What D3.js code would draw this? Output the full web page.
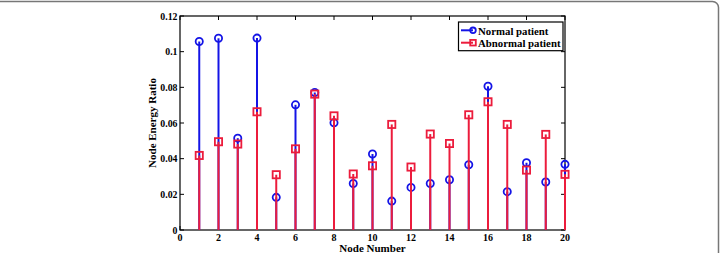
<!DOCTYPE html>
<html>
<head>
<meta charset="utf-8">
<script src="https://cdn.jsdelivr.net/npm/d3@7"></script>
<style>
  body { margin: 0; background: #fff; }
  svg text { font-family: "Liberation Serif", "Times New Roman", serif; font-weight: bold; }
</style>
</head>
<body>
<svg id="chart"></svg>
<script>
const nodes = d3.range(1, 21);
const normalValues = [0.1057, 0.1075, 0.0515, 0.1076, 0.0183, 0.0702, 0.0771, 0.0601, 0.0261, 0.0426,
                      0.0162, 0.0239, 0.0261, 0.0282, 0.0366, 0.0806, 0.0215, 0.0377, 0.0269, 0.0368];
const abnormalValues = [0.0418, 0.0495, 0.0482, 0.0663, 0.0310, 0.0455, 0.0762, 0.0640, 0.0314, 0.0360,
                        0.0592, 0.0353, 0.0538, 0.0485, 0.0646, 0.0719, 0.0592, 0.0336, 0.0536, 0.0312];
const xTicks = [0, 2, 4, 6, 8, 10, 12, 14, 16, 18, 20];
const yTicks = [0, 0.02, 0.04, 0.06, 0.08, 0.1, 0.12];
const seriesNames = ["Normal patient", "Abnormal patient"];

const W = 720, H = 253;
const blue = "#1414e6", red = "#ec1c3c";

const svg = d3.select("#chart").attr("width", W).attr("height", H);

// figure frame (left side runs off the page)
svg.append("rect")
    .attr("x", -10).attr("y", 1.5)
    .attr("width", 728.5).attr("height", 280)
    .attr("rx", 6)
    .attr("fill", "none")
    .attr("stroke", "#777")
    .attr("stroke-width", 1.5);

const mLeft = 180, mRight = 565, mTop = 16, mBottom = 230;
const x = d3.scaleLinear().domain([0, 20]).range([mLeft, mRight]);
const y = d3.scaleLinear().domain([0, 0.12]).range([mBottom, mTop]);

const g = svg.append("g");

// ticks (inward, on all four sides)
const tl = 4;
xTicks.forEach(t => {
    g.append("line").attr("x1", x(t)).attr("x2", x(t)).attr("y1", mBottom).attr("y2", mBottom - tl).attr("stroke", "#000");
    g.append("line").attr("x1", x(t)).attr("x2", x(t)).attr("y1", mTop).attr("y2", mTop + tl).attr("stroke", "#000");
    g.append("text").attr("x", x(t)).attr("y", mBottom + 10.5)
        .attr("text-anchor", "middle").attr("font-size", 10).text(t);
});
yTicks.forEach(t => {
    g.append("line").attr("x1", mLeft).attr("x2", mLeft + tl).attr("y1", y(t)).attr("y2", y(t)).attr("stroke", "#000");
    g.append("line").attr("x1", mRight).attr("x2", mRight - tl).attr("y1", y(t)).attr("y2", y(t)).attr("stroke", "#000");
    g.append("text").attr("x", mLeft - 2.5).attr("y", y(t) + 3.5)
        .attr("text-anchor", "end").attr("font-size", 9.8).text(t);
});

g.append("rect")
    .attr("x", mLeft).attr("y", mTop)
    .attr("width", mRight - mLeft).attr("height", mBottom - mTop)
    .attr("fill", "none").attr("stroke", "#000").attr("stroke-width", 1.2);

function drawStems(values, color, marker) {
    const s = svg.append("g");
    s.selectAll("line").data(values).join("line")
        .attr("x1", (d, i) => x(nodes[i])).attr("x2", (d, i) => x(nodes[i]))
        .attr("y1", y(0)).attr("y2", d => y(d))
        .attr("stroke", color).attr("stroke-width", 2);
    if (marker === "circle") {
        s.selectAll("circle").data(values).join("circle")
            .attr("cx", (d, i) => x(nodes[i])).attr("cy", d => y(d)).attr("r", 3.6)
            .attr("fill", "none").attr("stroke", color).attr("stroke-width", 1.8);
    } else {
        s.selectAll("rect").data(values).join("rect")
            .attr("x", (d, i) => x(nodes[i]) - 3.6).attr("y", d => y(d) - 3.6)
            .attr("width", 7.2).attr("height", 7.2)
            .attr("fill", "none").attr("stroke", color).attr("stroke-width", 1.8);
    }
}
drawStems(normalValues, blue, "circle");
drawStems(abnormalValues, red, "square");

// axis labels
svg.append("text").attr("x", x(10)).attr("y", 251.5)
    .attr("text-anchor", "middle").attr("font-size", 11).text("Node Number");
svg.append("text")
    .attr("transform", `translate(156,${(mTop + mBottom) / 2}) rotate(-90)`)
    .attr("text-anchor", "middle").attr("font-size", 11).text("Node Energy Ratio");

// legend
const lg = svg.append("g").attr("transform", "translate(458.5,22)");
lg.append("rect").attr("width", 104.5).attr("height", 28.7)
    .attr("fill", "#fff").attr("stroke", "#000").attr("stroke-width", 1.2);
const lcolors = [blue, red];
seriesNames.forEach((name, i) => {
    const ly = 8.3 + i * 12.4;
    lg.append("line").attr("x1", 2.5).attr("x2", 14.5).attr("y1", ly).attr("y2", ly)
        .attr("stroke", lcolors[i]).attr("stroke-width", 2);
    if (i === 0) {
        lg.append("circle").attr("cx", 14.5).attr("cy", ly).attr("r", 2.8)
            .attr("fill", "none").attr("stroke", blue).attr("stroke-width", 1.8);
    } else {
        lg.append("rect").attr("x", 11.7).attr("y", ly - 2.8).attr("width", 5.6).attr("height", 5.6)
            .attr("fill", "none").attr("stroke", red).attr("stroke-width", 1.8);
    }
    lg.append("text").attr("x", 19.5).attr("y", ly + 4.2).attr("font-size", 10.8).text(name);
});
</script>
</body>
</html>
